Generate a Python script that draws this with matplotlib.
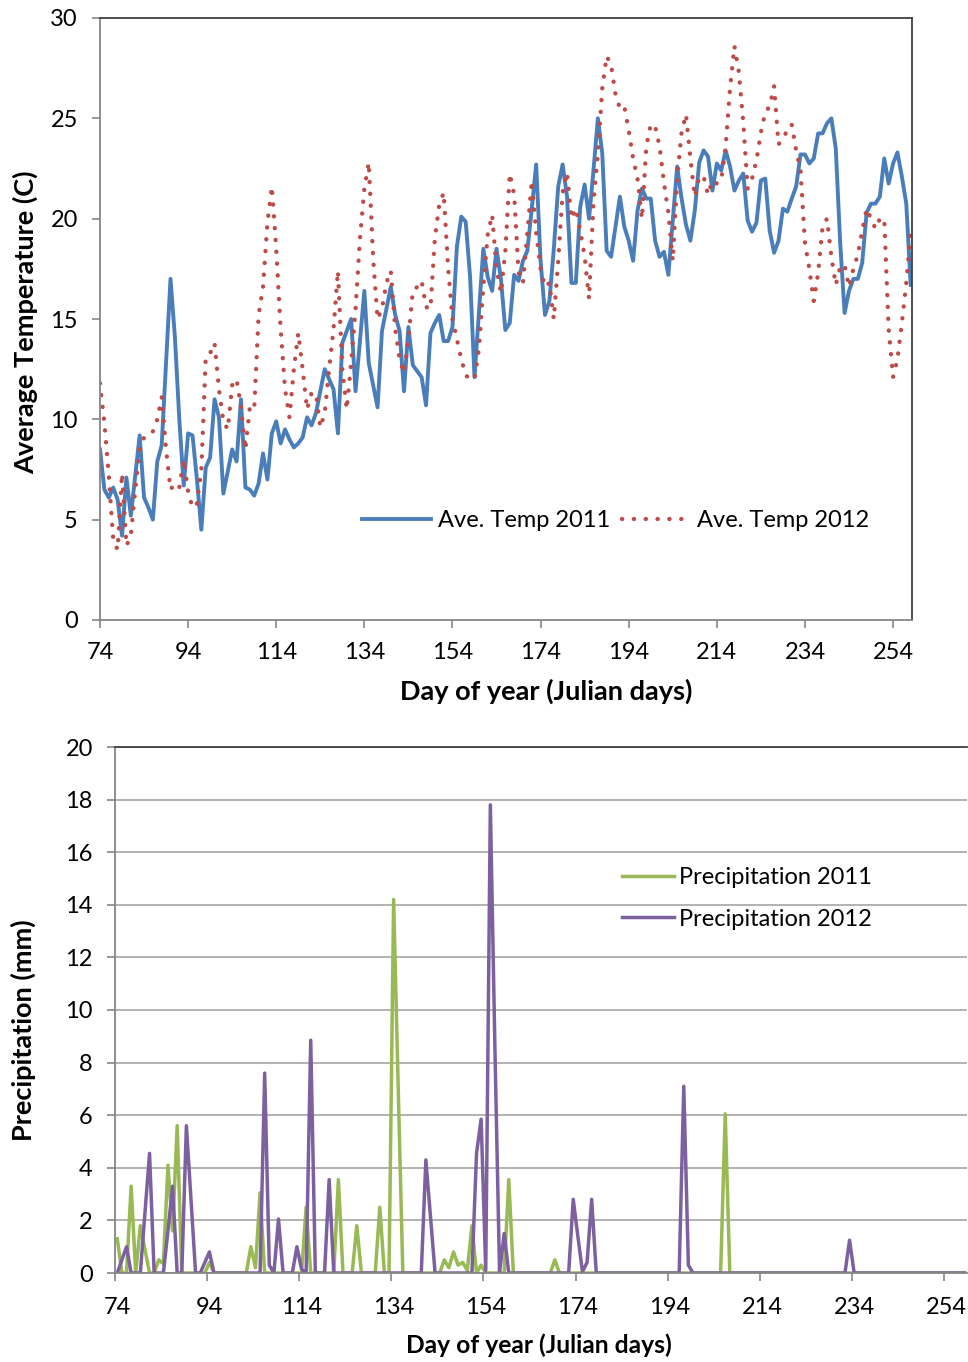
import matplotlib
matplotlib.use("Agg")
import matplotlib.pyplot as plt

plt.rcParams['font.family'] = ['Lato', 'DejaVu Sans']

# Day of year (Julian days), one value per day
days = list(range(74, 259))

# Average daily temperature (C)
temp_2011 = [
    8.5, 6.5, 6.1, 6.6, 6.0, 4.2, 7.1, 5.2, 7.2, 9.2,
    6.1, 5.6, 5.0, 7.9, 8.7, 12.9, 17.0, 14.1, 10.0, 6.7,
    9.3, 9.2, 7.0, 4.5, 7.6, 8.1, 11.0, 10.1, 6.3, 7.4,
    8.5, 7.9, 11.0, 6.6, 6.5, 6.2, 6.8, 8.3, 7.0, 9.3,
    9.9, 8.8, 9.5, 9.0, 8.6, 8.8, 9.1, 10.1, 9.7, 10.3,
    11.4, 12.5, 12.0, 11.5, 9.3, 13.8, 14.4, 15.0, 11.4, 13.9,
    16.4, 12.8, 11.7, 10.6, 14.4, 15.5, 16.6, 15.2, 14.4, 11.4,
    14.6, 12.7, 12.4, 12.1, 10.7, 14.3, 14.8, 15.2, 13.9, 13.9,
    14.6, 18.6, 20.1, 19.85, 17.1, 12.1, 15.3, 18.5, 17.1, 16.4,
    18.5, 17.0, 14.45, 14.8, 17.2, 16.9, 17.9, 18.4, 20.5, 22.7,
    17.9, 15.2, 15.9, 18.5, 21.6, 22.7, 21.1, 16.8, 16.8, 20.6,
    21.7, 20.0, 22.4, 25.0, 23.25, 18.4, 18.1, 19.6, 21.1, 19.6,
    18.9, 17.9, 20.4, 21.5, 21.0, 21.0, 18.9, 18.1, 18.35, 17.2,
    19.9, 22.6, 21.0, 19.7, 18.9, 20.4, 22.8, 23.4, 23.1, 21.4,
    22.75, 22.4, 23.4, 22.6, 21.4, 21.9, 22.25, 19.9, 19.35, 19.8,
    21.9, 22.0, 19.4, 18.3, 18.9, 20.5, 20.35, 21.0, 21.6, 23.2,
    23.2, 22.75, 23.0, 24.25, 24.25, 24.75, 25.0, 23.5, 18.8, 15.3,
    16.4, 17.0, 17.0, 17.8, 20.3, 20.75, 20.75, 21.1, 23.0, 21.75,
    22.75, 23.3, 22.1, 20.75, 16.7,
]
temp_2012 = [
    11.8, 9.8, 7.2, 4.0, 3.5, 7.3, 3.7, 4.2, 6.5, 8.5,
    9.1, 9.2, 9.4, 10.0, 11.1, 8.5, 6.5, 6.8, 6.6, 8.0,
    6.4, 5.6, 5.8, 7.5, 13.1, 13.3, 13.8, 11.5, 9.9, 9.5,
    11.7, 12.0, 10.6, 8.5, 10.6, 10.5, 15.2, 16.6, 19.8, 21.6,
    18.5, 14.5, 11.5, 10.1, 12.5, 14.3, 12.5, 10.5, 11.3, 11.3,
    9.6, 10.3, 12.5, 14.5, 17.4, 12.5, 10.5, 12.8, 15.5, 19.0,
    21.5, 22.8, 18.0, 15.0, 15.5, 16.8, 17.4, 14.5, 13.0, 12.3,
    14.0, 16.4, 16.6, 16.9, 15.6, 15.5, 19.0, 20.7, 21.3, 17.6,
    15.0, 14.0, 13.0, 12.2, 12.0, 12.0, 13.5, 16.6, 19.2, 20.2,
    17.5, 16.3, 18.4, 22.25, 21.2, 17.3, 16.8, 19.3, 21.9, 19.3,
    17.5, 16.6, 16.8, 15.0, 17.9, 21.3, 22.3, 20.0, 20.5, 19.4,
    18.1, 16.0, 20.8, 23.2, 26.5, 28.1, 27.65, 26.2, 25.5, 25.6,
    24.4, 23.0, 22.0, 20.0, 23.6, 24.7, 24.6, 23.6, 21.8, 20.3,
    17.9, 22.0, 24.3, 25.2, 23.0, 21.1, 22.1, 22.1, 21.2, 21.9,
    21.75, 21.9, 23.6, 26.5, 28.6, 27.3, 24.8, 21.5, 22.0, 22.9,
    24.3, 25.3, 25.6, 26.6, 23.7, 24.0, 24.4, 24.7, 23.4, 22.4,
    18.8, 17.5, 15.9, 17.3, 19.6, 20.0, 18.1, 16.7, 17.6, 17.7,
    16.6, 17.5, 18.2, 19.4, 20.5, 20.0, 19.5, 20.0, 20.0, 14.5,
    12.1, 13.0, 14.8, 16.8, 19.3,
]

# Daily precipitation (mm)
precip_2011 = [
    1.3, 0, 0, 3.3, 0, 1.8, 0.9, 0, 0, 0.5,
    0.35, 4.1, 1.6, 5.6, 0, 0, 0, 0, 0, 0,
    0.4, 0, 0, 0, 0, 0, 0, 0, 0, 1.0,
    0.2, 3.05, 0, 0, 0, 0, 0, 0, 0, 0,
    0, 2.5, 0, 0, 0, 0, 0, 0, 3.55, 0,
    0, 0, 1.8, 0, 0, 0, 0, 2.5, 0, 0,
    14.2, 7.0, 0, 0, 0, 0, 0, 0, 0, 0,
    0, 0.5, 0.2, 0.8, 0.3, 0.4, 0.1, 1.8, 0, 0.3,
    0, 0, 0, 0, 0, 3.55, 0, 0, 0, 0,
    0, 0, 0, 0, 0, 0.5, 0, 0, 0, 0,
    0, 0, 0, 0, 0, 0, 0, 0, 0, 0,
    0, 0, 0, 0, 0, 0, 0, 0, 0, 0,
    0, 0, 0, 0, 0, 0, 0, 0, 0, 0,
    0, 0, 6.05, 0, 0, 0, 0, 0, 0, 0,
    0, 0, 0, 0, 0, 0, 0, 0, 0, 0,
    0, 0, 0, 0, 0, 0, 0, 0, 0, 0,
    0, 0, 0, 0, 0, 0, 0, 0, 0, 0,
    0, 0, 0, 0, 0, 0, 0, 0, 0, 0,
    0, 0, 0, 0, 0,
]
precip_2012 = [
    0, 0.5, 1.0, 0, 0, 0, 2.3, 4.55, 0, 0,
    0, 1.6, 3.3, 0, 0, 5.6, 2.8, 0, 0, 0.4,
    0.8, 0, 0, 0, 0, 0, 0, 0, 0, 0,
    0, 0, 7.6, 0.3, 0, 2.05, 0, 0, 0, 1.0,
    0.15, 0, 8.85, 0, 0, 0, 3.55, 0, 0, 0,
    0, 0, 0, 0, 0, 0, 0, 0, 0, 0,
    0, 0, 0, 0, 0, 0, 0, 4.3, 2.15, 0,
    0, 0, 0, 0, 0, 0, 0, 0, 4.55, 5.85,
    0.1, 17.8, 8.5, 0, 1.5, 0, 0, 0, 0, 0,
    0, 0, 0, 0, 0, 0, 0, 0, 0, 2.8,
    1.4, 0.05, 0.4, 2.8, 0, 0, 0, 0, 0, 0,
    0, 0, 0, 0, 0, 0, 0, 0, 0, 0,
    0, 0, 0, 7.1, 0.3, 0, 0, 0, 0, 0,
    0, 0, 0, 0, 0, 0, 0, 0, 0, 0,
    0, 0, 0, 0, 0, 0, 0, 0, 0, 0,
    0, 0, 0, 0, 0, 0, 0, 0, 0, 1.25,
    0, 0, 0, 0, 0, 0, 0, 0, 0, 0,
    0, 0, 0, 0, 0, 0, 0, 0, 0, 0,
    0, 0, 0, 0, 0,
]

day_ticks = list(range(74, 255, 20))
axis_grey = "#868686"
frame_dark = "#404040"

fig = plt.figure(figsize=(9.68, 13.62), dpi=100)

# ---- top panel: temperature ----
ax1 = fig.add_axes([100 / 968, 1 - 620 / 1362, 812 / 968, 602 / 1362])
ax1.plot(days, temp_2011, color="#4A7EBB", lw=2.8, solid_joinstyle="round",
         label="Ave. Temp 2011")
ax1.plot(days, temp_2012, color="#BE4B48", lw=3.1, linestyle=(0, (0.05, 2.7)),
         dash_capstyle="round", label="Ave. Temp 2012")

ax1.set_xlim(74, 258.3)
ax1.set_ylim(0, 30)
ax1.set_xticks(day_ticks)
ax1.set_yticks(range(0, 31, 5))
ax1.tick_params(axis="both", direction="out", length=6, width=1.2,
                color=axis_grey, labelsize=17, pad=10)
for side in ["left", "bottom"]:
    ax1.spines[side].set_color(axis_grey)
    ax1.spines[side].set_linewidth(1.3)
for side in ["top", "right"]:
    ax1.spines[side].set_color(frame_dark)
    ax1.spines[side].set_linewidth(1.3)

ax1.set_ylabel("Average Temperature (C)", fontsize=19.5, fontweight="bold")
ax1.yaxis.set_label_coords(-0.076, 0.494)
ax1.set_xlabel("Day of year (Julian days)", fontsize=19.5, fontweight="bold")
ax1.xaxis.set_label_coords(0.55, -0.097)

ax1.legend(loc="center left", bbox_to_anchor=(0.3227, 0.1645), ncol=2,
           frameon=False, fontsize=17, handlelength=2.9, handletextpad=0.3,
           columnspacing=0.5, borderpad=0, borderaxespad=0)

# ---- bottom panel: precipitation ----
ax2 = fig.add_axes([115 / 968, 1 - 1273 / 1362, 852 / 968, 526 / 1362])
ax2.plot(days, precip_2011, color="#98B954", lw=2.5, solid_joinstyle="round",
         label="Precipitation 2011")
ax2.plot(days, precip_2012, color="#7D60A0", lw=2.5, solid_joinstyle="round",
         label="Precipitation 2012")

ax2.set_xlim(73.5, 258.5)
ax2.set_ylim(0, 20)
ax2.set_yticks(range(0, 21, 2))
ax2.set_xticks(day_ticks)
ax2.set_xticks([d - 0.5 for d in day_ticks], minor=True)
ax2.yaxis.grid(True, color="#A6A6A6", lw=1.2)
ax2.set_axisbelow(True)
ax2.tick_params(axis="x", which="major", length=0, labelsize=17, pad=17)
ax2.tick_params(axis="x", which="minor", direction="out", length=6, width=1.2,
                color=axis_grey)
ax2.tick_params(axis="y", direction="out", length=6, width=1.2,
                color=axis_grey, labelsize=17, pad=10)
for side in ["left", "bottom"]:
    ax2.spines[side].set_color(axis_grey)
    ax2.spines[side].set_linewidth(1.3)
ax2.spines["top"].set_color(frame_dark)
ax2.spines["top"].set_linewidth(1.3)
ax2.spines["right"].set_visible(False)

ax2.set_ylabel("Precipitation (mm)", fontsize=19.5, fontweight="bold")
ax2.yaxis.set_label_coords(-0.093, 0.461)
ax2.set_xlabel("Day of year (Julian days)", fontsize=17.7, fontweight="bold")
ax2.xaxis.set_label_coords(0.498, -0.114)

ax2.legend(loc="center left", bbox_to_anchor=(0.595, 0.712), ncol=1,
           frameon=False, fontsize=17, handlelength=2.2, handletextpad=0.2,
           labelspacing=0.85, borderpad=0, borderaxespad=0)

fig.savefig("out.png", dpi=100)
print("Saved out.png")
